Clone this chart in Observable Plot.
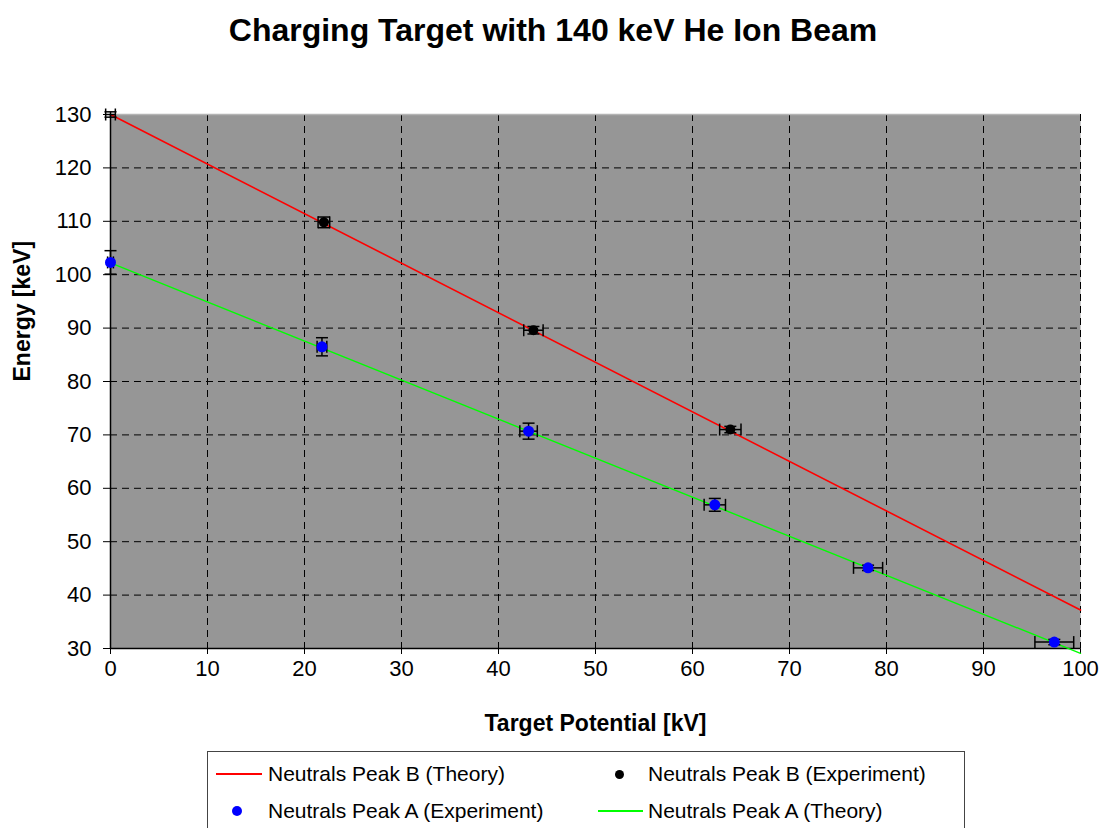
<!DOCTYPE html>
<html><head><meta charset="utf-8">
<script src="https://cdn.jsdelivr.net/npm/d3@7"></script>
<script src="https://cdn.jsdelivr.net/npm/@observablehq/plot@0.6"></script>
<style>
body{margin:0;background:#fff;}
#wrap{position:relative;width:1106px;height:828px;overflow:hidden;font-family:"Liberation Sans",Arial,sans-serif;color:#000;}
#title{position:absolute;left:0;top:0;width:1106px;height:60px;line-height:60px;text-align:center;font-weight:bold;font-size:32px;}
#plot{position:absolute;left:0;top:60px;}
#legend{position:absolute;left:207px;top:751px;width:758px;height:100px;border:1px solid #444;box-sizing:border-box;}
#legend .t{position:absolute;font-size:21px;line-height:24px;height:24px;white-space:nowrap;}
#legend .ln{position:absolute;height:0;border-top:2px solid;}
#legend .dt{position:absolute;border-radius:50%;}
</style>
</head><body>
<div id="wrap">
  <div id="title"></div>
  <div id="plot"></div>
  <div id="legend"></div>
</div>
<script>
// ---- data ----
const titleText = "Charging Target with 140 keV He Ion Beam";
const xLabel = "Target Potential [kV]";
const yLabel = "Energy [keV]";
const xTicks = [0,10,20,30,40,50,60,70,80,90,100];
const yTicks = [30,40,50,60,70,80,90,100,110,120,130];
const xGrid = [10,20,30,40,50,60,70,80,90,100];
const yGrid = [40,50,60,70,80,90,100,110,120];

// Theory lines
const theoryX = [0, 100];
const theoryBY = [130, 37.2];
const theoryAY = [102.2, 29.1];

// Experiment: Peak B (black)
const bX = [0, 22.0, 43.6, 63.9];
const bY = [130, 109.8, 89.6, 71.0];
const bXErr = [0.5, 0.6, 1.0, 1.1];
const bYErr = [0.5, 1.0, 0.7, 0.6];

// Experiment: Peak A (blue)
const aX = [0, 21.8, 43.1, 62.3, 78.1, 97.3];
const aY = [102.3, 86.5, 70.7, 56.9, 45.1, 31.2];
const aXErr = [0.3, 0.5, 0.9, 1.1, 1.5, 2.0];
const aYErr = [2.2, 1.7, 1.5, 1.2, 0.5, 0.5];

const seriesNames = [
  "Neutrals Peak B (Theory)",
  "Neutrals Peak B (Experiment)",
  "Neutrals Peak A (Experiment)",
  "Neutrals Peak A (Theory)"
];
const colors = {B:"#ff0000", Bexp:"#000000", Aexp:"#0000ff", A:"#00ff00"};

// ---- build ----
const thB = theoryX.map((x,i)=>({x, y:theoryBY[i]}));
const thA = theoryX.map((x,i)=>({x, y:theoryAY[i]}));
const bRows = bX.map((x,i)=>({x, y:bY[i], ex:bXErr[i], ey:bYErr[i]}));
const aRows = aX.map((x,i)=>({x, y:aY[i], ex:aXErr[i], ey:aYErr[i]}));
// markers sitting on the plot-area border are not drawn (as in the original)
const inside = d => d.y < 130;

const capH = {draw(ctx, size){const r=Math.sqrt(size/Math.PI); ctx.moveTo(-r,0); ctx.lineTo(r,0);}};
const capV = {draw(ctx, size){const r=Math.sqrt(size/Math.PI); ctx.moveTo(0,-r); ctx.lineTo(0,r);}};

function errorBars(rows){
  const o = {stroke:"#000", strokeWidth:1.5};
  return [
    Plot.link(rows, {x1:d=>d.x-d.ex, x2:d=>d.x+d.ex, y1:"y", y2:"y", ...o}),
    Plot.link(rows, {x1:"x", x2:"x", y1:d=>d.y-d.ey, y2:d=>d.y+d.ey, ...o}),
    Plot.dot(rows, {x:d=>d.x-d.ex, y:"y", symbol:capV, r:6, fill:"none", ...o}),
    Plot.dot(rows, {x:d=>d.x+d.ex, y:"y", symbol:capV, r:6, fill:"none", ...o}),
    Plot.dot(rows, {x:"x", y:d=>d.y-d.ey, symbol:capH, r:6, fill:"none", ...o}),
    Plot.dot(rows, {x:"x", y:d=>d.y+d.ey, symbol:capH, r:6, fill:"none", ...o})
  ];
}

const chart = Plot.plot({
  width:1106, height:690,
  marginLeft:110, marginRight:26, marginTop:54, marginBottom:102,
  x:{domain:[0,100], ticks:xTicks, tickSize:6, tickPadding:6, label:null, tickFormat:d=>String(d)},
  y:{domain:[30,130], ticks:yTicks, tickSize:7, tickPadding:12, label:null, tickFormat:d=>String(d)},
  style:{fontFamily:'"Liberation Sans", Arial, sans-serif', fontSize:"22px", color:"#000", background:"transparent", overflow:"visible"},
  marks:[
    Plot.frame({fill:"#969696", stroke:null}),
    Plot.ruleX(xGrid, {stroke:"#000", strokeDasharray:"7,5", strokeWidth:1}),
    Plot.ruleY(yGrid, {stroke:"#000", strokeDasharray:"7,5", strokeWidth:1}),
    Plot.ruleY([130], {stroke:"#b4b4b4", strokeWidth:1.5}),
    Plot.ruleX([0], {stroke:"#000", strokeWidth:1.5}),
    Plot.ruleY([30], {stroke:"#000", strokeWidth:1.5}),
    Plot.line(thB, {x:"x", y:"y", stroke:colors.B, strokeWidth:1.6}),
    Plot.line(thA, {x:"x", y:"y", stroke:colors.A, strokeWidth:1.4}),
    ...errorBars(bRows),
    Plot.dot(bRows, {filter:inside, x:"x", y:"y", r:5, fill:colors.Bexp}),
    ...errorBars(aRows),
    Plot.dot(aRows, {filter:inside, x:"x", y:"y", r:5.5, fill:colors.Aexp}),
    Plot.text([xLabel], {frameAnchor:"bottom", dy:82, fontWeight:"bold", fontSize:23, text:d=>d}),
    Plot.text([yLabel], {frameAnchor:"left", dx:-88, rotate:-90, fontWeight:"bold", fontSize:23, text:d=>d})
  ]
});
document.getElementById("plot").appendChild(chart);
document.getElementById("title").textContent = titleText;

// legend
const lg = document.getElementById("legend");
function add(html){ lg.insertAdjacentHTML("beforeend", html); }
add(`<div class="ln" style="left:8px;top:21px;width:46px;border-color:${colors.B}"></div>`);
add(`<div class="t" style="left:60px;top:10px">${seriesNames[0]}</div>`);
add(`<div class="dt" style="left:407px;top:18px;width:9px;height:9px;background:${colors.Bexp}"></div>`);
add(`<div class="t" style="left:440px;top:10px">${seriesNames[1]}</div>`);
add(`<div class="dt" style="left:24px;top:54px;width:10px;height:10px;background:${colors.Aexp}"></div>`);
add(`<div class="t" style="left:60px;top:47px">${seriesNames[2]}</div>`);
add(`<div class="ln" style="left:390px;top:58px;width:45px;border-color:${colors.A}"></div>`);
add(`<div class="t" style="left:440px;top:47px">${seriesNames[3]}</div>`);
</script>
</body></html>
